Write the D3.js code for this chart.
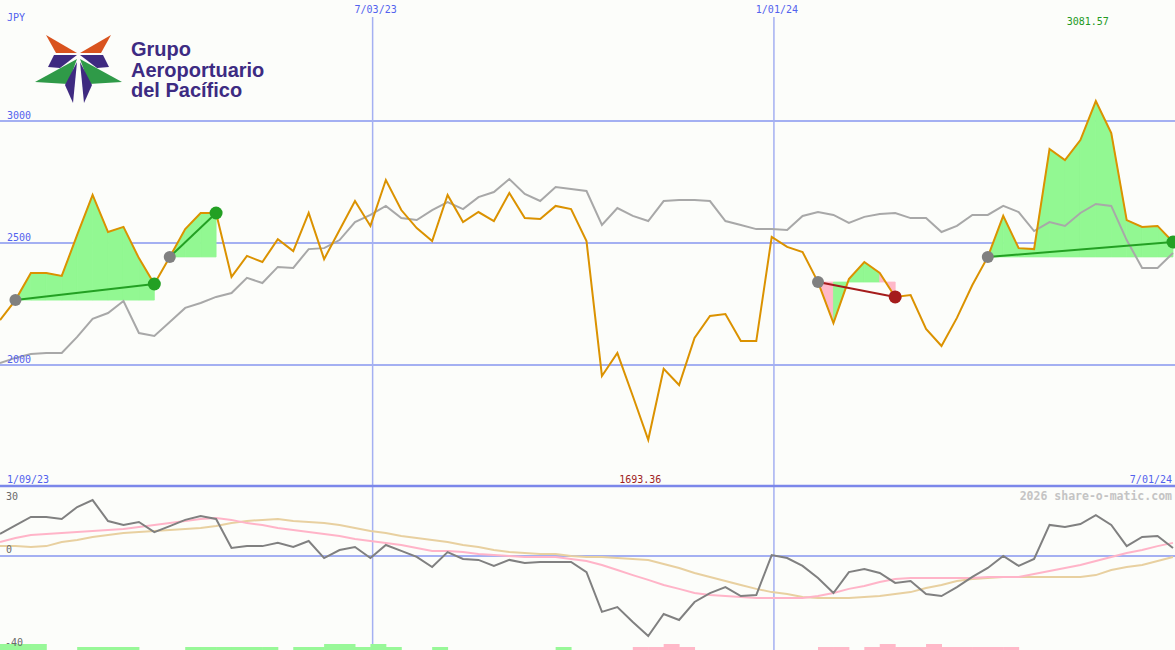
<!DOCTYPE html>
<html>
<head>
<meta charset="utf-8">
<script src="https://cdn.jsdelivr.net/npm/d3@7"></script>
<style>
body { margin: 0; background: #fcfdfa; }
svg text { font-family: "DejaVu Sans Mono", monospace; font-size: 10px; }
</style>
</head>
<body>
<div id="chart"></div>
<script>
// weekly closes, JPY
const startDate = new Date(2023, 0, 15);
const dates = d3.range(77).map(i => d3.timeDay.offset(startDate, 7 * i));

const price = [2184, 2266, 2377, 2377, 2365, 2533, 2697, 2545, 2566, 2438,
  2332, 2443, 2557, 2623, 2623, 2361, 2447, 2422, 2516, 2467,
  2623, 2434, 2553, 2672, 2570, 2758, 2635, 2561, 2508, 2697,
  2586, 2627, 2590, 2705, 2602, 2598, 2652, 2639, 2508, 1955,
  2049, 1873, 1693.36, 1984, 1918, 2111, 2201, 2209, 2098, 2098,
  2525, 2484, 2463, 2340, 2172, 2352, 2422, 2377, 2279, 2287,
  2148, 2078, 2193, 2328, 2443, 2611, 2479, 2475, 2885, 2840,
  2922, 3081.57, 2951, 2594, 2566, 2570, 2504];

// comparison index (grey line)
const indexLine = [2008, 2029, 2045, 2049, 2049, 2115, 2189, 2213, 2262, 2131,
  2119, 2176, 2234, 2254, 2279, 2295, 2357, 2336, 2402, 2398,
  2475, 2479, 2512, 2586, 2615, 2652, 2602, 2594, 2635, 2668,
  2639, 2688, 2709, 2762, 2701, 2672, 2729, 2721, 2713, 2574,
  2643, 2611, 2590, 2672, 2676, 2676, 2672, 2590, 2574, 2557,
  2557, 2553, 2611, 2627, 2615, 2582, 2607, 2619, 2623, 2602,
  2602, 2545, 2570, 2615, 2615, 2652, 2627, 2549, 2586, 2570,
  2623, 2660, 2652, 2512, 2398, 2398, 2459];

// lower panel
const momentum = [9.6, 13.3, 17.0, 17.0, 16.1, 21.3, 24.3, 15.2, 13.5, 14.8,
  10.4, 13.0, 15.7, 17.4, 16.1, 3.5, 4.3, 4.3, 5.7, 3.9,
  6.5, -0.9, 2.6, 3.9, -0.9, 4.8, 2.2, -0.4, -4.8, 1.7,
  -1.3, -1.7, -4.3, -1.7, -3.0, -2.6, -2.6, -2.6, -7.0, -24.3,
  -22.2, -28.7, -34.8, -25.2, -27.8, -20.0, -16.1, -13.5, -17.4, -17.0,
  0.4, -0.9, -4.3, -9.6, -16.1, -7.0, -5.7, -7.4, -11.7, -10.9,
  -16.5, -17.4, -13.5, -9.1, -5.2, 0.0, -4.3, -1.3, 13.5, 12.6,
  13.9, 17.8, 13.5, 4.3, 8.3, 8.7, 3.5];

const maFast = [6.1, 7.8, 9.1, 9.6, 10.0, 10.4, 10.9, 11.3, 11.7, 12.6,
  13.5, 14.3, 15.2, 16.1, 16.5, 15.7, 14.3, 13.5, 12.2, 11.3,
  10.4, 9.6, 8.7, 7.4, 6.5, 5.7, 4.8, 3.5, 2.2, 2.2,
  1.7, 0.9, 0.4, 0.0, -0.4, -0.4, -0.4, -1.3, -2.2, -3.9,
  -6.1, -8.3, -10.4, -12.6, -14.3, -16.1, -17.0, -17.4, -17.8, -18.3,
  -18.3, -18.3, -18.3, -17.4, -16.1, -14.3, -13.0, -11.3, -10.0, -9.6,
  -9.6, -9.6, -9.6, -9.6, -9.1, -9.1, -9.1, -7.8, -6.5, -5.2,
  -3.9, -2.2, -0.4, 1.3, 2.6, 4.3, 5.7];

const maSlow = [4.3, 4.3, 3.9, 4.3, 6.1, 7.0, 8.3, 9.1, 10.0, 10.4,
  10.9, 11.3, 11.7, 12.2, 13.0, 14.3, 15.2, 15.7, 16.1, 15.2,
  14.8, 14.3, 13.5, 12.2, 10.9, 10.0, 8.7, 7.8, 7.0, 6.1,
  4.8, 3.9, 2.6, 1.7, 1.3, 0.9, 0.9, 0.0, -0.4, -0.4,
  -0.9, -1.3, -1.7, -3.5, -5.2, -7.4, -9.1, -10.9, -12.6, -14.3,
  -15.7, -16.5, -17.8, -18.3, -18.3, -18.3, -17.8, -17.4, -16.5, -15.7,
  -13.9, -12.6, -10.9, -10.0, -9.6, -9.1, -9.1, -9.1, -9.1, -9.1,
  -9.1, -8.3, -6.1, -4.8, -3.9, -2.2, -0.4];

// signal strip at the very bottom (+ green, - pink)
const signals = [2, 2, 2, 0, 0, 1, 1, 1, 1, 0,
  0, 0, 1, 1, 1, 1, 1, 1, 0, 1,
  1, 2, 2, 1, 2, 1, 0, 0, 1, 0,
  0, 0, 0, 0, 0, 0, 1, 0, 0, 0,
  0, -1, -1, -2, -1, 0, 0, 0, 0, 0,
  0, 0, 0, -1, -1, 0, -1, -2, -1, -1,
  -2, -1, -1, -1, -1, -1, 0, 0, 0, 0,
  0, 0, 0, 0, 0, 0, 0];

// trades: entry / exit week index
const trades = [
  { entry: 1, exit: 10 },
  { entry: 11, exit: 14 },
  { entry: 53, exit: 58 },
  { entry: 64, exit: 76 }
];

const priceTicks = [2000, 2500, 3000];
const dateTicks = [new Date(2023, 6, 3), new Date(2024, 0, 1)];
const edgeLabels = ["1/09/23", "7/01/24"];
const lowerTicks = [30, 0, -40];

var width = 1175;
var height = 650;

var svg = d3.select("#chart")
  .append("svg")
  .attr("width", width)
  .attr("height", height);

svg.append("rect").attr("width", width).attr("height", height).attr("fill", "#fcfdfa");

var x = d3.scaleTime().domain([dates[0], dates[dates.length - 1]]).range([0, 1173]);
var y = d3.scaleLinear().domain([2000, 3000]).range([365, 121]);
var y2 = d3.scaleLinear().domain([-40, 30]).range([648, 487]);
var sigY = d3.scaleLinear().domain([0, 2]).range([650, 644]);
var xi = i => x(dates[i]);

var blue = "#5262ee";
var grid = "#a4b0f2";

// ---- grid ----
svg.selectAll(".hgrid")
  .data(priceTicks).enter()
  .append("line")
  .attr("x1", 0).attr("x2", width)
  .attr("y1", d => y(d)).attr("y2", d => y(d))
  .attr("stroke", grid).attr("stroke-width", 2);

svg.selectAll(".vgrid")
  .data(dateTicks).enter()
  .append("line")
  .attr("x1", d => x(d)).attr("x2", d => x(d))
  .attr("y1", 17).attr("y2", height)
  .attr("stroke", grid).attr("stroke-width", 1.5);

svg.append("line")
  .attr("x1", 0).attr("x2", width)
  .attr("y1", y2(0)).attr("y2", y2(0))
  .attr("stroke", grid).attr("stroke-width", 2);

svg.append("line")
  .attr("x1", 0).attr("x2", width)
  .attr("y1", 486).attr("y2", 486)
  .attr("stroke", "#7b87ea").attr("stroke-width", 2.5);

// ---- trade shading, one piece per week, coloured by close vs entry ----
var segArea = d3.area()
  .x(d => xi(d.i))
  .y1(d => y(price[d.i]))
  .y0(d => y(d.base));

trades.forEach(function (t) {
  var base = price[t.entry];
  for (var i = t.entry; i < t.exit; i++) {
    var col = price[i + 1] > base ? "#92f892" : "#ffb8c8";
    svg.append("path")
      .datum([{ i: i, base: base }, { i: i + 1, base: base }])
      .attr("d", segArea)
      .attr("fill", col)
      .attr("stroke", col).attr("stroke-width", 0.8);
  }
});

// ---- main lines ----
var line = d3.line().x((d, i) => xi(i)).y(d => y(d));

svg.append("path").datum(indexLine)
  .attr("d", line).attr("fill", "none")
  .attr("stroke", "#a8a8a8").attr("stroke-width", 2);

svg.append("path").datum(price)
  .attr("d", line).attr("fill", "none")
  .attr("stroke", "#db9200").attr("stroke-width", 2);

// ---- trade markers ----
trades.forEach(function (t) {
  var win = price[t.exit] > price[t.entry];
  var col = win ? "#23a023" : "#a51c1c";
  svg.append("line")
    .attr("x1", xi(t.entry)).attr("y1", y(price[t.entry]))
    .attr("x2", xi(t.exit)).attr("y2", y(price[t.exit]))
    .attr("stroke", col).attr("stroke-width", 2);
  svg.append("circle")
    .attr("cx", xi(t.entry)).attr("cy", y(price[t.entry]))
    .attr("r", 6).attr("fill", "#808080");
  svg.append("circle")
    .attr("cx", xi(t.exit)).attr("cy", y(price[t.exit]))
    .attr("r", 6.5).attr("fill", col);
});

// ---- lower panel ----
var line2 = d3.line().x((d, i) => xi(i)).y(d => y2(d));

svg.append("path").datum(maSlow)
  .attr("d", line2).attr("fill", "none")
  .attr("stroke", "#e8d0a0").attr("stroke-width", 2);

svg.append("path").datum(maFast)
  .attr("d", line2).attr("fill", "none")
  .attr("stroke", "#ffb4c8").attr("stroke-width", 2);

svg.append("path").datum(momentum)
  .attr("d", line2).attr("fill", "none")
  .attr("stroke", "#808080").attr("stroke-width", 2);

var step = xi(1) - xi(0);
signals.forEach(function (s, i) {
  if (s === 0) return;
  svg.append("rect")
    .attr("x", xi(i)).attr("width", step + 0.5)
    .attr("y", sigY(Math.abs(s))).attr("height", sigY(0) - sigY(Math.abs(s)))
    .attr("fill", s > 0 ? "#98f898" : "#ffb8c8");
});

// ---- texts ----
svg.append("text").attr("x", 7).attr("y", 21).attr("fill", blue).text("JPY");

svg.selectAll(".ptick")
  .data(priceTicks).enter()
  .append("text")
  .attr("x", 7).attr("y", d => y(d) - 2)
  .attr("fill", blue).text(d => d);

var fmt = d3.timeFormat("%-m/%d/%y");
svg.selectAll(".dtick")
  .data(dateTicks).enter()
  .append("text")
  .attr("x", d => x(d) + 3).attr("y", 13)
  .attr("text-anchor", "middle")
  .attr("fill", blue).text(d => fmt(d));

svg.append("text").attr("x", 7).attr("y", 483).attr("fill", blue).text(edgeLabels[0]);
svg.append("text").attr("x", 1172).attr("y", 483).attr("text-anchor", "end").attr("fill", blue).text(edgeLabels[1]);

var iMax = price.indexOf(d3.max(price));
var iMin = price.indexOf(d3.min(price));
svg.append("text").attr("x", xi(iMax) - 8).attr("y", 25).attr("text-anchor", "middle")
  .attr("fill", "#229a22").text(d3.max(price).toFixed(2));
svg.append("text").attr("x", xi(iMin) - 8).attr("y", 483).attr("text-anchor", "middle")
  .attr("fill", "#a01e1e").text(d3.min(price).toFixed(2));

svg.selectAll(".ltick")
  .data(lowerTicks).enter()
  .append("text")
  .attr("x", d => d < 0 ? 5 : 6)
  .attr("y", d => d === 30 ? 500 : (d === 0 ? 553 : 646))
  .attr("fill", "#6a6a6a").text(d => d);

svg.append("text").attr("x", 1172).attr("y", 500).attr("text-anchor", "end")
  .attr("fill", "#c4c4c4").style("font-size", "11.5px").style("font-weight", "bold")
  .text("2026 share-o-matic.com");

// ---- logo ----
var logo = svg.append("g");
var leftParts = [
  { c: "#d9531e", p: [[46, 35], [77, 53], [56, 53]] },
  { c: "#3e2a80", p: [[54, 55], [77, 55], [60, 68], [48, 67]] },
  { c: "#2f9a48", p: [[35, 82], [77, 59], [68, 84]] },
  { c: "#3e2a80", p: [[77, 62], [65, 85], [73, 103]] }
];
leftParts.forEach(function (s) {
  logo.append("polygon").attr("points", s.p.map(q => q.join(",")).join(" ")).attr("fill", s.c);
  logo.append("polygon").attr("points", s.p.map(q => [157 - q[0], q[1]].join(",")).join(" ")).attr("fill", s.c);
});
["Grupo", "Aeroportuario", "del Pacífico"].forEach(function (t, k) {
  logo.append("text")
    .attr("x", 131).attr("y", 56 + k * 20.5)
    .style("font-family", "'Liberation Sans', Arial, sans-serif")
    .style("font-size", "20px").style("font-weight", "bold")
    .attr("fill", "#3d2b82").text(t);
});
</script>
</body>
</html>
